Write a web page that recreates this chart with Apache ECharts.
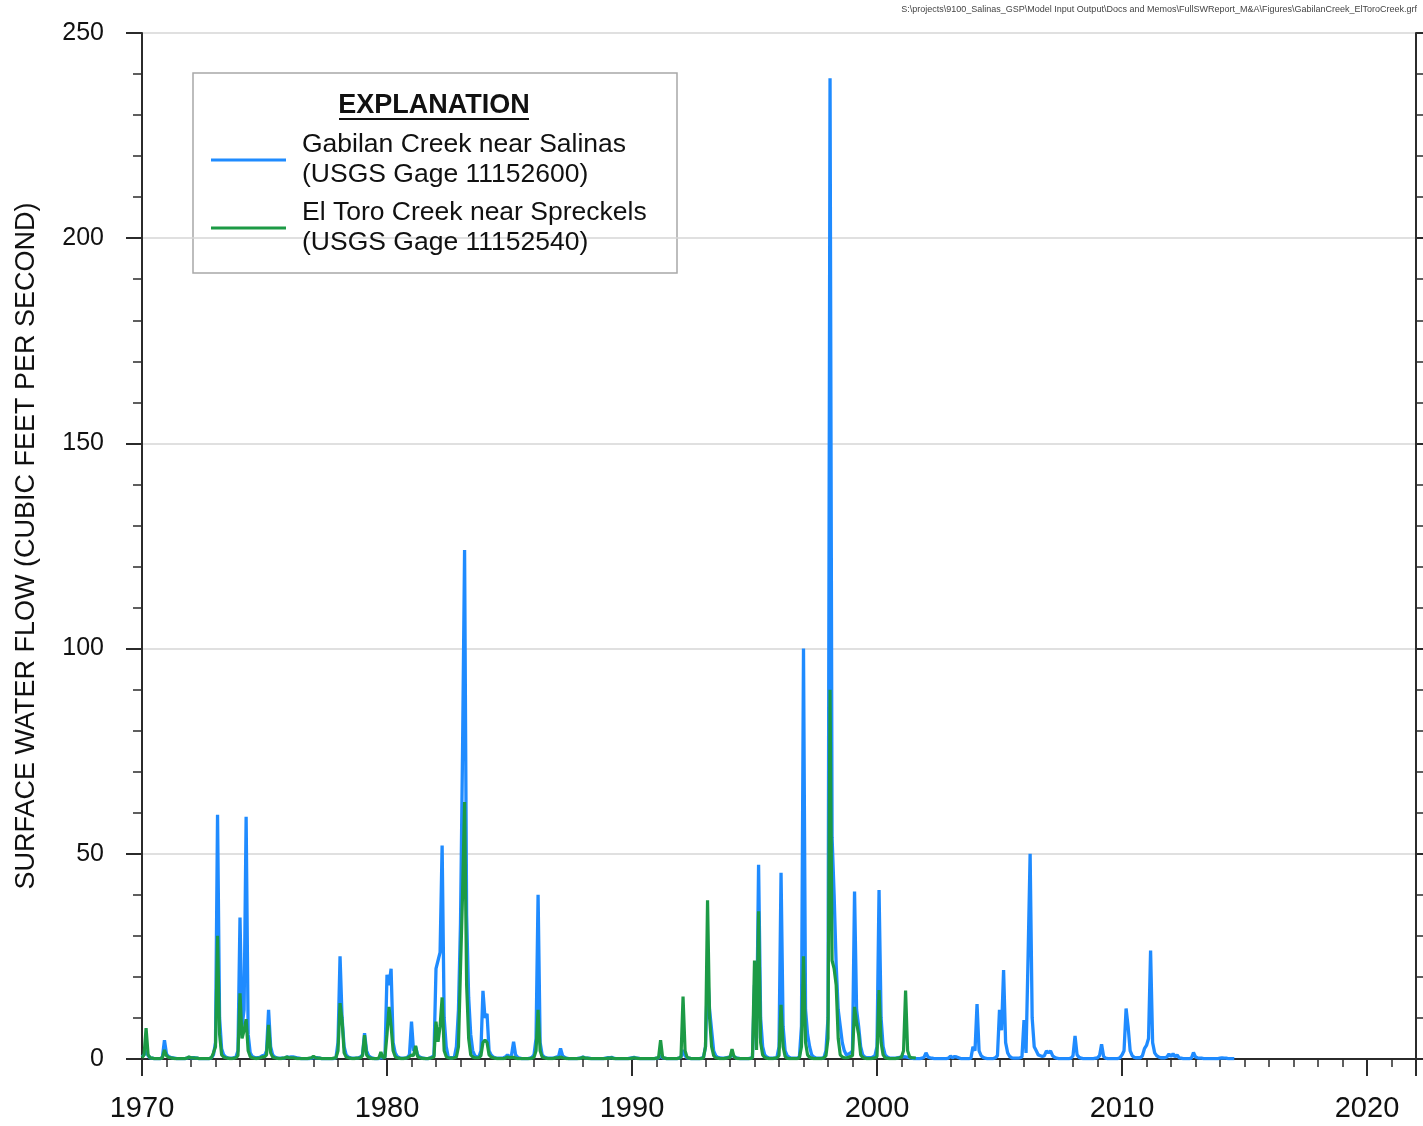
<!DOCTYPE html>
<html>
<head>
<meta charset="utf-8">
<title>Gabilan Creek and El Toro Creek surface water flow</title>
<script src="https://cdn.jsdelivr.net/npm/echarts@6/dist/echarts.min.js"></script>
<style>
  html, body { margin: 0; padding: 0; background: #ffffff; }
  #chart { width: 1423px; height: 1126px; }
</style>
</head>
<body>
<div id="chart"></div>
<script>
// Monthly mean flow (cfs), one row per calendar year, Jan..Dec.
const gabilanStartYear = 1970;
const gabilanFlow = [
  [0.5, 1, 2, 0.8, 0.3, 0.2, 0.1, 0.1, 0.1, 0.1, 0.5, 4.6],       // 1970
  [1.2, 0.6, 0.4, 0.3, 0.2, 0.1, 0.1, 0.1, 0.1, 0.1, 0.2, 0.4],    // 1971
  [0.3, 0.3, 0.3, 0.2, 0.1, 0.1, 0.1, 0.1, 0.1, 0.1, 0.3, 1],      // 1972
  [4, 59.5, 10, 2.5, 1, 0.5, 0.3, 0.2, 0.2, 0.3, 0.5, 2],          // 1973
  [34.5, 8, 12, 59, 6, 1.5, 0.6, 0.4, 0.3, 0.3, 0.5, 0.8],         // 1974
  [0.8, 2, 12, 3, 1, 0.5, 0.3, 0.2, 0.2, 0.2, 0.3, 0.5],           // 1975
  [0.4, 0.5, 0.5, 0.4, 0.3, 0.2, 0.1, 0.1, 0.1, 0.1, 0.1, 0.2],    // 1976
  [0.4, 0.3, 0.3, 0.2, 0.1, 0.1, 0.1, 0.1, 0.1, 0.1, 0.1, 0.3],    // 1977
  [4, 25, 10, 3, 1, 0.5, 0.3, 0.2, 0.2, 0.2, 0.3, 0.5],            // 1978
  [1, 6.3, 2, 0.8, 0.4, 0.2, 0.1, 0.1, 0.1, 0.3, 0.3, 0.5],        // 1979
  [20.5, 18, 22, 4, 1.5, 0.6, 0.3, 0.2, 0.2, 0.2, 0.4, 1],         // 1980
  [9.1, 2, 3, 1, 0.5, 0.3, 0.2, 0.1, 0.1, 0.2, 0.5, 0.8],          // 1981
  [22, 24, 26, 52, 10, 3, 0.5, 0.3, 0.3, 0.5, 3, 12],              // 1982
  [33, 75, 124, 35, 15, 6, 2, 0.8, 0.5, 0.5, 2, 16.6],             // 1983
  [10, 11, 2, 1, 0.5, 0.3, 0.2, 0.2, 0.2, 0.3, 0.5, 1],            // 1984
  [0.5, 1, 4.2, 1, 0.4, 0.2, 0.1, 0.1, 0.1, 0.1, 0.2, 0.4],        // 1985
  [1, 5, 40, 4, 1, 0.5, 0.3, 0.2, 0.2, 0.2, 0.3, 0.5],             // 1986
  [0.5, 2.6, 0.8, 0.4, 0.2, 0.1, 0.1, 0.1, 0.1, 0.1, 0.2, 0.3],    // 1987
  [0.5, 0.3, 0.2, 0.2, 0.1, 0.1, 0.1, 0.1, 0.1, 0.1, 0.1, 0.2],    // 1988
  [0.3, 0.3, 0.4, 0.2, 0.1, 0.1, 0.1, 0.1, 0.1, 0.1, 0.1, 0.2],    // 1989
  [0.3, 0.4, 0.2, 0.2, 0.1, 0.1, 0.1, 0.1, 0.1, 0.1, 0.1, 0.1],    // 1990
  [0.2, 0.3, 0.8, 0.3, 0.2, 0.1, 0.1, 0.1, 0.1, 0.1, 0.1, 0.2],    // 1991
  [0.5, 2.2, 0.8, 0.3, 0.2, 0.1, 0.1, 0.1, 0.1, 0.1, 0.2, 0.4],    // 1992
  [3, 21.3, 12, 7, 2, 0.8, 0.4, 0.3, 0.2, 0.2, 0.3, 0.4],          // 1993
  [0.5, 1, 0.6, 0.3, 0.2, 0.1, 0.1, 0.1, 0.1, 0.1, 0.2, 0.4],      // 1994
  [18, 5, 47.3, 10, 3, 1, 0.5, 0.3, 0.2, 0.2, 0.2, 0.4],           // 1995
  [3, 45.4, 8, 2, 0.8, 0.4, 0.2, 0.2, 0.2, 0.2, 0.5, 8],           // 1996
  [100, 12, 6, 3, 1, 0.5, 0.3, 0.2, 0.2, 0.2, 0.3, 2],             // 1997
  [10, 239, 54, 40, 23, 12, 8, 4, 2, 1, 1.2, 1.5],                 // 1998
  [2, 40.8, 12, 8, 3, 1, 0.5, 0.3, 0.3, 0.3, 0.5, 0.8],            // 1999
  [3, 41.2, 10, 3, 1, 0.5, 0.3, 0.2, 0.2, 0.2, 0.3, 0.4],          // 2000
  [0.5, 0.6, 0.5, 0.4, 0.3, 0.2, 0.1, 0.1, 0.1, 0.1, 0.2, 0.4],    // 2001
  [1.5, 0.5, 0.3, 0.2, 0.1, 0.1, 0.1, 0.1, 0.1, 0.1, 0.1, 0.2],    // 2002
  [0.7, 0.3, 0.6, 0.5, 0.3, 0.1, 0.1, 0.1, 0.1, 0.1, 0.2, 3],      // 2003
  [2, 13.4, 2, 0.8, 0.4, 0.2, 0.1, 0.1, 0.1, 0.1, 0.3, 0.8],       // 2004
  [12, 7, 21.7, 4, 1.5, 0.6, 0.3, 0.2, 0.2, 0.2, 0.3, 0.5],        // 2005
  [9.5, 1.5, 25, 50, 10, 3, 2, 1, 0.8, 0.6, 0.8, 2],               // 2006
  [1.5, 2, 0.8, 0.4, 0.2, 0.1, 0.1, 0.1, 0.1, 0.1, 0.1, 0.2],      // 2007
  [0.8, 5.6, 1, 0.4, 0.2, 0.1, 0.1, 0.1, 0.1, 0.1, 0.1, 0.2],      // 2008
  [0.3, 0.8, 3.6, 0.6, 0.2, 0.1, 0.1, 0.1, 0.1, 0.1, 0.1, 0.3],    // 2009
  [1, 2, 12.3, 7.9, 2, 0.8, 0.4, 0.3, 0.3, 0.3, 0.8, 2.5],         // 2010
  [3.3, 5, 26.4, 4, 1.5, 0.8, 0.5, 0.3, 0.3, 0.3, 0.5, 1.2],       // 2011
  [0.6, 1.3, 0.5, 1, 0.3, 0.2, 0.1, 0.1, 0.1, 0.1, 0.2, 1.6],      // 2012
  [0.5, 0.3, 0.2, 0.2, 0.1, 0.1, 0.1, 0.1, 0.1, 0.1, 0.1, 0.1],    // 2013
  [0.2, 0.3, 0.2, 0.2, 0.1, 0.1, 0.1, 0.1]                         // 2014
];

const elToroStartYear = 1970;
const elToroFlow = [
  [0.3, 1, 7.5, 1, 0.3, 0.2, 0.1, 0.1, 0.1, 0.1, 0.3, 2.2],        // 1970
  [0.8, 0.4, 0.3, 0.2, 0.1, 0.1, 0.1, 0.1, 0.1, 0.1, 0.2, 0.5],    // 1971
  [0.3, 0.3, 0.2, 0.2, 0.1, 0.1, 0.1, 0.1, 0.1, 0.1, 0.3, 1.5],    // 1972
  [3, 30, 6, 1, 0.5, 0.3, 0.2, 0.1, 0.1, 0.2, 0.3, 0.8],           // 1973
  [16, 5, 7, 9.7, 2, 0.6, 0.3, 0.2, 0.1, 0.2, 0.3, 0.5],           // 1974
  [0.5, 1, 8.3, 1.5, 0.5, 0.3, 0.2, 0.1, 0.1, 0.2, 0.3, 0.5],      // 1975
  [0.3, 0.3, 0.3, 0.2, 0.1, 0.1, 0.1, 0.1, 0.1, 0.1, 0.2, 0.3],    // 1976
  [0.7, 0.3, 0.2, 0.2, 0.1, 0.1, 0.1, 0.1, 0.1, 0.1, 0.2, 0.3],    // 1977
  [2, 13.6, 9.5, 1.5, 0.5, 0.3, 0.2, 0.1, 0.1, 0.2, 0.2, 0.3],     // 1978
  [0.8, 5.8, 1, 0.4, 0.2, 0.1, 0.1, 0.1, 0.2, 1.7, 0.3, 0.4],      // 1979
  [6, 12.7, 8, 2, 0.6, 0.3, 0.2, 0.1, 0.1, 0.2, 0.3, 0.6],         // 1980
  [1, 0.8, 3.2, 0.6, 0.3, 0.2, 0.1, 0.1, 0.1, 0.2, 0.3, 0.5],      // 1981
  [9.1, 4.2, 8, 15, 2, 0.6, 0.3, 0.2, 0.2, 0.3, 0.5, 3],           // 1982
  [22, 40, 62.6, 18, 5, 1, 0.5, 0.3, 0.3, 0.3, 0.8, 4],            // 1983
  [4.6, 4, 1, 0.5, 0.3, 0.2, 0.1, 0.1, 0.1, 0.1, 0.2, 0.5],        // 1984
  [0.3, 0.4, 0.4, 0.2, 0.1, 0.1, 0.1, 0.1, 0.1, 0.1, 0.1, 0.2],    // 1985
  [0.4, 2, 12, 2, 0.5, 0.3, 0.2, 0.1, 0.1, 0.1, 0.2, 0.3],         // 1986
  [0.3, 0.5, 0.3, 0.2, 0.1, 0.1, 0.1, 0.1, 0.1, 0.1, 0.1, 0.2],    // 1987
  [0.4, 0.2, 0.2, 0.1, 0.1, 0.1, 0.1, 0.1, 0.1, 0.1, 0.1, 0.1],    // 1988
  [0.2, 0.2, 0.3, 0.1, 0.1, 0.1, 0.1, 0.1, 0.1, 0.1, 0.1, 0.1],    // 1989
  [0.2, 0.3, 0.2, 0.1, 0.1, 0.1, 0.1, 0.1, 0.1, 0.1, 0.1, 0.1],    // 1990
  [0.2, 0.3, 4.6, 0.4, 0.2, 0.1, 0.1, 0.1, 0.1, 0.1, 0.1, 0.2],    // 1991
  [0.5, 15.2, 2, 0.4, 0.2, 0.1, 0.1, 0.1, 0.1, 0.1, 0.1, 0.3],     // 1992
  [3, 38.7, 10, 3, 0.8, 0.3, 0.2, 0.1, 0.1, 0.1, 0.2, 0.3],        // 1993
  [0.4, 2.4, 0.5, 0.2, 0.1, 0.1, 0.1, 0.1, 0.1, 0.1, 0.1, 0.3],    // 1994
  [24, 2.2, 36, 4, 1, 0.4, 0.2, 0.1, 0.1, 0.1, 0.2, 0.3],          // 1995
  [0.8, 13.2, 3, 0.6, 0.2, 0.1, 0.1, 0.1, 0.1, 0.1, 0.3, 3],       // 1996
  [25, 4, 1, 0.4, 0.2, 0.1, 0.1, 0.1, 0.1, 0.1, 0.3, 0.8],         // 1997
  [5, 90, 24, 22, 18, 5, 1, 0.5, 0.3, 0.3, 0.4, 0.6],              // 1998
  [0.8, 12.7, 8.8, 6, 1, 0.4, 0.2, 0.1, 0.1, 0.1, 0.2, 0.3],       // 1999
  [0.6, 16.8, 4, 1, 0.3, 0.2, 0.1, 0.1, 0.1, 0.1, 0.2, 0.3],       // 2000
  [0.5, 2, 16.7, 2, 0.5, 0.3, 0.3, 0.2]                            // 2001
];

const yearTicks = [1970, 2022, 10];      // min, max, interval
const flowTicks = [0, 250, 50];

const seriesNames = ['Gabilan Creek near Salinas', 'El Toro Creek near Spreckels'];
const gageLabels = ['(USGS Gage 11152600)', '(USGS Gage 11152540)'];
const filePath = 'S:\\projects\\9100_Salinas_GSP\\Model Input Output\\Docs and Memos\\FullSWReport_M&A\\Figures\\GabilanCreek_ElToroCreek.grf';

// Flatten year rows into [decimal year, flow] points.
function toPoints(startYear, rows) {
  const pts = [];
  rows.forEach((row, yi) => {
    row.forEach((v, m) => pts.push([startYear + yi + m / 12, v]));
  });
  return pts;
}

const FONT = '"Liberation Sans", Arial, Helvetica, sans-serif';
const AXIS_COLOR = '#2b2b2b';

const chart = echarts.init(document.getElementById('chart'), null, { renderer: 'canvas' });

const valueAxisCommon = {
  type: 'value',
  min: flowTicks[0],
  max: flowTicks[1],
  interval: flowTicks[2],
  axisLine: { show: true, lineStyle: { color: AXIS_COLOR, width: 2 } },
  axisTick: { show: true, inside: false, length: 16, lineStyle: { color: AXIS_COLOR, width: 2 } },
  minorTick: { show: true, splitNumber: 5, length: 9, lineStyle: { color: AXIS_COLOR, width: 1.5 } }
};

chart.setOption({
  backgroundColor: '#ffffff',
  animation: false,
  grid: { left: 142, right: 7, top: 33, bottom: 67, containLabel: false, outerBoundsMode: 'none' },
  xAxis: {
    type: 'value',
    min: yearTicks[0],
    max: yearTicks[1],
    interval: yearTicks[2],
    axisLine: { show: true, onZero: false, lineStyle: { color: AXIS_COLOR, width: 2 } },
    axisTick: { show: true, inside: false, length: 17, lineStyle: { color: AXIS_COLOR, width: 2 } },
    minorTick: { show: true, splitNumber: 10, length: 8, lineStyle: { color: AXIS_COLOR, width: 1.5 } },
    axisLabel: {
      margin: 35,
      fontFamily: FONT,
      fontSize: 29,
      color: '#111111',
      formatter: v => (v >= yearTicks[1] ? '' : String(v))
    },
    splitLine: { show: false }
  },
  yAxis: [
    Object.assign({}, valueAxisCommon, {
      position: 'left',
      name: 'SURFACE WATER FLOW (CUBIC FEET PER SECOND)',
      nameLocation: 'middle',
      nameRotate: 90,
      nameGap: 102,
      nameTextStyle: { fontFamily: FONT, fontSize: 27, color: '#111111' },
      axisLabel: { margin: 38, fontFamily: FONT, fontSize: 25, color: '#111111' },
      splitLine: { show: true, lineStyle: { color: '#d6d6d6', width: 1.5 } }
    }),
    Object.assign({}, valueAxisCommon, {
      position: 'right',
      axisLabel: { show: false },
      splitLine: { show: false }
    })
  ],
  legend: {
    orient: 'vertical',
    left: 211,
    top: 130,
    padding: 0,
    itemWidth: 75,
    itemHeight: 3,
    itemGap: 8,
    icon: 'rect',
    selectedMode: false,
    data: seriesNames,
    formatter: name => name + '\n' + gageLabels[seriesNames.indexOf(name)],
    textStyle: {
      fontFamily: FONT,
      fontSize: 26.5,
      lineHeight: 30,
      color: '#111111',
      padding: [0, 0, 0, 11]
    }
  },
  graphic: [
    {
      type: 'rect',
      z: 0,
      shape: { x: 193, y: 73, width: 484, height: 200 },
      style: { fill: '#ffffff', stroke: '#a8a8a8', lineWidth: 1.5 }
    },
    {
      type: 'text',
      z: 10,
      x: 434, y: 106,
      style: {
        text: 'EXPLANATION',
        fontFamily: FONT, fontSize: 27, fontWeight: 'bold',
        fill: '#111111', align: 'center', verticalAlign: 'middle'
      }
    },
    {
      type: 'line',
      z: 10,
      shape: { x1: 339, y1: 119, x2: 529, y2: 119 },
      style: { stroke: '#111111', lineWidth: 2 }
    },
    {
      type: 'text',
      z: 10,
      x: 1417, y: 10,
      style: {
        text: filePath,
        fontFamily: FONT, fontSize: 9,
        fill: '#444444', align: 'right', verticalAlign: 'middle'
      }
    }
  ],
  series: [
    {
      name: seriesNames[0],
      type: 'line',
      showSymbol: false,
      symbol: 'none',
      smooth: false,
      z: 3,
      color: '#1f8bff',
      lineStyle: { color: '#1f8bff', width: 3.3 },
      data: toPoints(gabilanStartYear, gabilanFlow)
    },
    {
      name: seriesNames[1],
      type: 'line',
      showSymbol: false,
      symbol: 'none',
      smooth: false,
      z: 4,
      color: '#1c9a45',
      lineStyle: { color: '#1c9a45', width: 3.2 },
      data: toPoints(elToroStartYear, elToroFlow)
    }
  ]
});
</script>
</body>
</html>
